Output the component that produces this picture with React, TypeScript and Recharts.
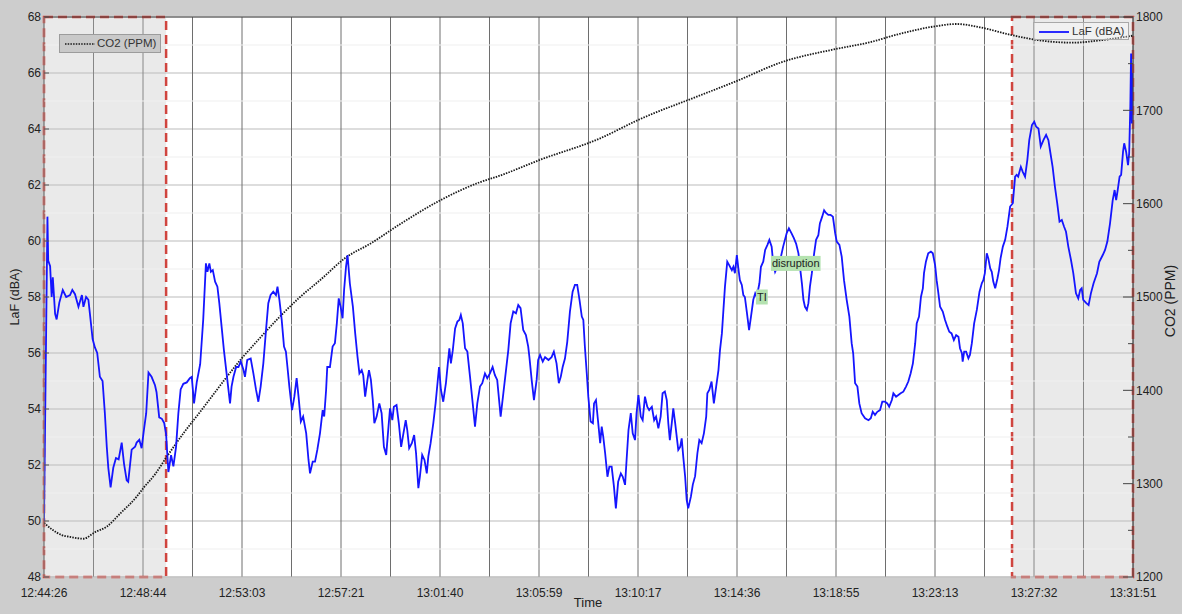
import {
  LineChart,
  Line,
  XAxis,
  YAxis,
  CartesianGrid,
  ReferenceArea,
  ReferenceLine,
  ReferenceDot,
} from "recharts";

// seconds from 12:44:26 to 13:31:51
const SPAN = 2845;

const timeLabels = [
  "12:44:26", "12:48:44", "12:53:03", "12:57:21", "13:01:40", "13:05:59",
  "13:10:17", "13:14:36", "13:18:55", "13:23:13", "13:27:32", "13:31:51",
];
// one grid line half way between every labelled time
const timeTicks = Array.from({ length: 23 }, (_, k) => (k * SPAN) / 22);

const dbTicks = [48, 50, 52, 54, 56, 58, 60, 62, 64, 66, 68];
const dbMinor = [49, 51, 53, 55, 57, 59, 61, 63, 65, 67];
const ppmTicks = [1200, 1250, 1300, 1350, 1400, 1450, 1500, 1550, 1600, 1650, 1700, 1750, 1800];

// [seconds, dBA]
const laf: [number, number][] = [
  [0, 50.0], [9, 60.87], [11, 59.3], [16, 59.1], [20, 58.0], [23, 58.7], [29, 57.4], [33, 57.2],
  [40, 57.8], [49, 58.25], [58, 58.0], [68, 58.07], [74, 58.25], [81, 58.1], [90, 57.65], [99, 58.07],
  [103, 57.65], [110, 58.0], [116, 57.9], [120, 57.4], [127, 56.5], [133, 56.2], [139, 56.0], [146, 55.15],
  [153, 55.0], [159, 53.85], [164, 52.65], [168, 51.9], [174, 51.2], [181, 51.9], [188, 52.25], [195, 52.2],
  [203, 52.8], [209, 52.05], [216, 51.45], [220, 51.4], [229, 52.55], [238, 52.65], [242, 52.8], [249, 52.9],
  [255, 52.6], [261, 53.25], [267, 53.85], [273, 55.3], [281, 55.15], [290, 54.85], [294, 54.6], [301, 53.7],
  [308, 53.65], [314, 53.5], [319, 53.1], [322, 52.4], [325, 51.75], [332, 52.35], [338, 51.95], [345, 52.65],
  [351, 53.85], [357, 54.7], [364, 54.9], [373, 54.95], [381, 55.1], [386, 55.15], [392, 54.2], [399, 54.95],
  [408, 55.6], [416, 57.2], [423, 59.2], [427, 58.9], [432, 59.2], [436, 58.9], [441, 58.96], [447, 58.55],
  [453, 58.37], [458, 57.78], [464, 56.94], [470, 56.1], [477, 55.27], [486, 54.2], [490, 54.8], [495, 55.15],
  [502, 55.5], [508, 55.5], [514, 55.7], [521, 55.4], [525, 55.15], [531, 55.75], [540, 55.8], [547, 55.27],
  [554, 54.68], [560, 54.26], [566, 54.8], [573, 55.63], [580, 56.82], [586, 57.78], [592, 58.07], [599, 58.19],
  [606, 58.07], [610, 58.37], [615, 57.9], [621, 57.18], [627, 56.23], [632, 56.05], [636, 55.5], [641, 54.8],
  [648, 53.96], [654, 54.44], [660, 55.1], [665, 54.44], [671, 53.55], [677, 53.73], [685, 53.13], [691, 52.18],
  [695, 51.7], [702, 52.12], [708, 52.12], [714, 52.54], [721, 53.13], [728, 53.96], [732, 53.73], [737, 54.68],
  [740, 55.5], [747, 55.5], [754, 56.23], [760, 56.35], [765, 57.06], [770, 57.95], [775, 57.65], [780, 57.24],
  [784, 58.25], [789, 59.08], [793, 59.5], [799, 58.49], [807, 57.65], [813, 56.7], [819, 55.87], [824, 55.27],
  [830, 55.39], [834, 55.21], [839, 54.44], [845, 55.04], [849, 55.39], [854, 55.04], [859, 54.32], [863, 53.49],
  [869, 53.73], [876, 54.2], [882, 53.85], [888, 52.65], [894, 52.36], [900, 53.37], [904, 54.02], [910, 53.6],
  [914, 54.08], [921, 54.14], [927, 53.49], [933, 52.65], [939, 53.13], [945, 53.6], [949, 53.25], [954, 52.6],
  [961, 52.78], [967, 53.07], [972, 52.42], [978, 51.17], [982, 51.58], [988, 52.36], [994, 52.18], [1000, 51.7],
  [1004, 52.3], [1010, 52.78], [1017, 53.49], [1023, 54.2], [1028, 54.92], [1032, 55.5], [1037, 54.68], [1043, 54.26],
  [1050, 54.92], [1055, 55.63], [1059, 56.17], [1063, 55.63], [1068, 56.1], [1074, 56.88], [1080, 57.12], [1085, 57.18],
  [1089, 57.36], [1094, 57.06], [1100, 56.17], [1106, 56.05], [1113, 55.15], [1120, 54.2], [1126, 53.37], [1132, 54.2],
  [1139, 54.8], [1145, 54.92], [1152, 55.27], [1158, 55.1], [1165, 55.27], [1172, 55.5], [1178, 55.21], [1184, 55.04],
  [1193, 53.73], [1200, 54.56], [1207, 55.39], [1213, 56.1], [1219, 57.06], [1226, 57.48], [1233, 57.42], [1239, 57.71],
  [1245, 57.6], [1252, 56.82], [1259, 56.64], [1265, 56.23], [1268, 55.87], [1274, 55.04], [1280, 54.32], [1287, 55.04],
  [1291, 55.75], [1296, 55.93], [1303, 55.69], [1309, 55.85], [1318, 55.75], [1326, 55.85], [1332, 56.05], [1339, 55.63],
  [1345, 54.92], [1350, 55.15], [1355, 55.5], [1361, 55.8], [1367, 56.4], [1374, 57.48], [1381, 58.19], [1387, 58.43],
  [1393, 58.43], [1399, 57.9], [1405, 57.3], [1409, 57.18], [1413, 56.23], [1418, 55.27], [1422, 54.44], [1428, 53.55],
  [1434, 53.49], [1437, 54.2], [1442, 54.32], [1448, 53.49], [1453, 52.78], [1457, 53.37], [1461, 53.01], [1466, 52.42],
  [1472, 51.58], [1477, 51.94], [1483, 51.94], [1489, 51.23], [1494, 50.45], [1500, 51.4], [1507, 51.7], [1512, 51.58],
  [1518, 51.29], [1522, 52.18], [1527, 53.25], [1533, 53.85], [1538, 53.13], [1544, 52.89], [1548, 53.85], [1553, 54.5],
  [1559, 53.73], [1564, 53.6], [1570, 54.44], [1576, 54.08], [1581, 53.96], [1588, 54.08], [1594, 53.6], [1599, 53.73],
  [1605, 53.31], [1611, 53.73], [1616, 54.56], [1622, 54.62], [1627, 54.32], [1631, 53.49], [1635, 52.89], [1640, 53.49],
  [1644, 54.02], [1649, 53.49], [1653, 53.01], [1657, 52.54], [1662, 52.65], [1666, 52.95], [1670, 52.3], [1675, 51.58],
  [1679, 50.75], [1683, 50.45], [1690, 50.87], [1695, 51.3], [1701, 51.6], [1707, 52.42], [1712, 52.89], [1718, 52.78],
  [1724, 53.13], [1730, 53.73], [1733, 54.56], [1738, 54.68], [1744, 54.98], [1750, 54.2], [1756, 54.8], [1762, 55.39],
  [1766, 56.1], [1771, 56.7], [1775, 57.54], [1779, 58.37], [1785, 59.26], [1790, 59.14], [1797, 58.96], [1801, 59.08],
  [1805, 58.85], [1810, 59.5], [1814, 59.02], [1818, 58.6], [1823, 58.43], [1827, 58.07], [1831, 58.0], [1836, 57.48],
  [1842, 56.82], [1847, 57.3], [1853, 57.9], [1858, 58.13], [1862, 58.0], [1869, 58.49], [1873, 59.08], [1879, 59.26],
  [1884, 59.68], [1890, 59.86], [1895, 60.04], [1901, 59.8], [1905, 59.2], [1910, 58.9], [1923, 59.3], [1931, 59.8],
  [1940, 60.27], [1946, 60.45], [1953, 60.27], [1959, 60.1], [1965, 59.9], [1971, 59.56], [1975, 59.08], [1980, 58.49],
  [1984, 57.9], [1988, 57.65], [1993, 57.54], [1997, 57.78], [2001, 58.37], [2006, 58.85], [2012, 59.56], [2017, 60.04],
  [2023, 60.21], [2027, 60.63], [2033, 60.87], [2038, 61.1], [2043, 61.0], [2049, 60.93], [2055, 60.93], [2061, 60.87],
  [2067, 60.27], [2071, 59.98], [2078, 59.86], [2084, 59.44], [2090, 58.6], [2097, 57.9], [2104, 57.3], [2110, 56.35],
  [2114, 55.99], [2119, 54.92], [2125, 54.8], [2130, 54.2], [2136, 53.85], [2145, 53.67], [2154, 53.6], [2160, 53.67],
  [2165, 53.9], [2171, 53.79], [2177, 53.9], [2184, 53.96], [2190, 54.26], [2197, 54.26], [2203, 54.2], [2208, 54.08],
  [2215, 54.32], [2219, 54.56], [2226, 54.44], [2232, 54.5], [2238, 54.56], [2245, 54.62], [2252, 54.8], [2258, 54.98],
  [2264, 55.27], [2270, 55.63], [2276, 56.35], [2280, 57.06], [2286, 57.3], [2291, 58.0], [2296, 58.31], [2299, 58.85],
  [2304, 59.26], [2310, 59.56], [2317, 59.62], [2322, 59.56], [2328, 59.14], [2332, 58.6], [2336, 58.19], [2341, 57.65],
  [2348, 57.48], [2354, 57.18], [2360, 56.94], [2365, 56.76], [2371, 56.7], [2377, 56.46], [2383, 56.64], [2389, 56.58],
  [2393, 56.17], [2398, 55.99], [2400, 55.69], [2404, 56.05], [2409, 56.05], [2415, 55.81], [2419, 55.93], [2424, 56.35],
  [2430, 57.06], [2437, 57.54], [2444, 58.19], [2450, 58.49], [2454, 58.6], [2458, 58.85], [2463, 59.56], [2467, 59.38],
  [2472, 59.02], [2476, 58.9], [2480, 58.55], [2485, 58.31], [2491, 58.67], [2495, 58.96], [2499, 59.38], [2505, 59.8],
  [2511, 60.04], [2517, 60.51], [2524, 61.23], [2531, 61.35], [2537, 62.3], [2541, 62.36], [2545, 62.3], [2552, 62.65],
  [2557, 62.47], [2563, 62.3], [2569, 62.9], [2574, 63.6], [2581, 64.14], [2587, 64.26], [2592, 64.08], [2598, 64.02],
  [2604, 63.37], [2611, 63.6], [2618, 63.79], [2624, 63.6], [2628, 63.25], [2635, 62.65], [2641, 61.94], [2647, 61.35],
  [2653, 60.69], [2659, 60.75], [2665, 60.51], [2670, 60.33], [2676, 59.8], [2683, 59.32], [2689, 58.85], [2696, 58.13],
  [2702, 57.95], [2707, 58.25], [2711, 58.31], [2715, 57.9], [2723, 57.78], [2729, 57.71], [2735, 58.13], [2742, 58.49],
  [2751, 58.85], [2757, 59.26], [2766, 59.5], [2772, 59.68], [2778, 59.98], [2785, 60.63], [2792, 61.46], [2797, 61.82],
  [2801, 61.46], [2805, 61.82], [2810, 62.3], [2814, 62.36], [2819, 63.19], [2822, 63.49], [2827, 63.19], [2832, 62.71],
  [2835, 63.13], [2838, 64.8], [2840, 66.7], [2842, 64.2], [2844, 66.0], [2845, 64.6],
];

// [seconds, ppm]
const co2: [number, number][] = [
  [0, 1258], [21, 1251], [46, 1245], [68, 1243], [103, 1241], [133, 1248], [164, 1254], [199, 1268],
  [242, 1286], [259, 1295], [290, 1310], [321, 1329], [368, 1356], [408, 1377], [434, 1391], [473, 1412],
  [516, 1434], [564, 1456], [621, 1481], [669, 1500], [721, 1518], [791, 1543], [852, 1557], [930, 1578],
  [1037, 1604], [1139, 1623], [1191, 1630], [1296, 1647], [1453, 1670], [1554, 1690], [1714, 1716], [1813, 1732],
  [1923, 1751], [2072, 1766], [2158, 1773], [2236, 1782], [2328, 1790], [2384, 1792.5], [2445, 1789], [2524, 1781],
  [2584, 1776], [2688, 1772.5], [2759, 1775], [2845, 1780],
];

// excluded stretches at both ends, in seconds
const marked: [number, number][] = [[0, 319], [2529, 2845]];

const notes = [
  { t: 1860, v: 58.0, text: "TI" },
  { t: 1899, v: 59.2, text: "disruption" },
];

const lafRows = laf.map(([t, v]) => ({ t, v }));
const co2Rows = co2.map(([t, v]) => ({ t, v }));

const FONT = "'Liberation Sans', Arial, sans-serif";

const timeLabel = (v: number) => {
  const k = Math.round((v * 22) / SPAN);
  return k % 2 === 0 ? timeLabels[k / 2] : "";
};

let ctx: CanvasRenderingContext2D | null = null;
const textWidth = (s: string) => {
  if (!ctx) ctx = document.createElement("canvas").getContext("2d");
  if (!ctx) return s.length * 5;
  ctx.font = `11px ${FONT}`;
  return ctx.measureText(s).width;
};

const DbTick = (p: any) => {
  const ax = p.x + 3;
  return (
    <g>
      <line x1={ax} x2={ax + 5} y1={p.y} y2={p.y} stroke="#555" />
      <text x={p.x} y={p.y} dy="0.36em" textAnchor="end" fontSize={12} fill="#222">
        {p.payload.value}
      </text>
    </g>
  );
};

const PpmTick = (p: any) => {
  const ax = p.x - 3;
  const major = p.payload.value % 100 === 0;
  return (
    <g>
      <line x1={ax} x2={ax - (major ? 10 : 5)} y1={p.y} y2={p.y} stroke="#444" />
      {major && (
        <text x={p.x} y={p.y} dy="0.36em" textAnchor="start" fontSize={12} fill="#222">
          {p.payload.value}
        </text>
      )}
    </g>
  );
};

const tagShape = (text: string) => (p: any) => {
  const w = textWidth(text) + 2;
  return (
    <g>
      <rect x={p.cx} y={p.cy - 7.5} width={w} height={15} fill="#b4e2b0" />
      <text x={p.cx + 1} y={p.cy} dy="0.36em" fontSize={11} fill="#222">
        {text}
      </text>
    </g>
  );
};

export default function App() {
  return (
    <div
      style={{
        position: "absolute",
        left: 0,
        top: 0,
        width: 1182,
        height: 614,
        background: "#cdcdcd",
        fontFamily: FONT,
      }}
    >
      <LineChart width={1182} height={614} margin={{ top: 17, right: 8, bottom: 6, left: 8 }}>
        <CartesianGrid yAxisId="laf" vertical={false} fill="#fff" stroke="#d2d2d2" strokeWidth={1.3} />
        <CartesianGrid yAxisId="laf" horizontal={false} stroke="#6e6e6e" />
        <XAxis
          type="number"
          dataKey="t"
          domain={[0, SPAN]}
          ticks={timeTicks}
          interval={0}
          allowDataOverflow
          tickFormatter={timeLabel}
          tickLine={false}
          tickMargin={5}
          height={31}
          axisLine={{ stroke: "#bbb" }}
          tick={{ fontSize: 12, fill: "#222" }}
        />
        <YAxis
          yAxisId="laf"
          domain={[48, 68]}
          ticks={dbTicks}
          interval={0}
          allowDataOverflow
          width={36}
          tickLine={false}
          tickSize={0}
          tickMargin={3}
          axisLine={{ stroke: "#8a8a8a" }}
          tick={(p: any) => <DbTick {...p} />}
        />
        <YAxis
          yAxisId="co2"
          orientation="right"
          domain={[1200, 1800]}
          ticks={ppmTicks}
          interval={0}
          allowDataOverflow
          width={41}
          tickLine={false}
          tickSize={0}
          tickMargin={3}
          axisLine={{ stroke: "#444" }}
          tick={(p: any) => <PpmTick {...p} />}
        />
        {dbMinor.map((v) => (
          <ReferenceLine key={v} yAxisId="laf" y={v} stroke="#efefef" strokeWidth={1.2} />
        ))}
        {marked.map(([a, b]) => (
          <ReferenceArea
            key={a}
            yAxisId="laf"
            x1={a}
            x2={b}
            y1={48}
            y2={68}
            fill="#bdbdbd"
            fillOpacity={0.32}
            stroke="#d0453f"
            strokeWidth={2.5}
            strokeDasharray="9 5"
          />
        ))}
        <ReferenceLine yAxisId="laf" y={68} stroke="#444" />
        <Line
          yAxisId="co2"
          data={co2Rows}
          dataKey="v"
          type="monotone"
          stroke="#1a1a1a"
          strokeWidth={1.8}
          strokeDasharray="1.5 1.2"
          dot={false}
          isAnimationActive={false}
        />
        <Line
          yAxisId="laf"
          data={lafRows}
          dataKey="v"
          type="linear"
          stroke="#1515ff"
          strokeWidth={1.8}
          dot={false}
          isAnimationActive={false}
        />
        {notes.map((n) => (
          <ReferenceDot key={n.text} yAxisId="laf" x={n.t} y={n.v} shape={tagShape(n.text)} />
        ))}
      </LineChart>

      {/* legends */}
      <div
        style={{
          position: "absolute",
          left: 59,
          top: 34,
          width: 102,
          height: 19,
          boxSizing: "border-box",
          background: "#c9c9c9",
          border: "1px solid #9c9c9c",
          fontSize: 11.5,
          color: "#333",
        }}
      >
        <svg width={32} height={17} style={{ position: "absolute", left: 4, top: 0 }}>
          <line x1={1} x2={31} y1={9} y2={9} stroke="#1a1a1a" strokeWidth={1.6} strokeDasharray="1.5 1.2" />
        </svg>
        <span style={{ position: "absolute", left: 37, top: 2 }}>CO2 (PPM)</span>
      </div>
      <div
        style={{
          position: "absolute",
          left: 1033,
          top: 22,
          width: 96,
          height: 18,
          boxSizing: "border-box",
          background: "rgba(255,255,255,0.35)",
          border: "1px solid #a8a8a8",
          fontSize: 11.5,
          color: "#333",
        }}
      >
        <svg width={32} height={16} style={{ position: "absolute", left: 4, top: 0 }}>
          <line x1={1} x2={31} y1={9} y2={9} stroke="#1515ff" strokeWidth={1.8} />
        </svg>
        <span style={{ position: "absolute", left: 38, top: 2 }}>LaF (dBA)</span>
      </div>

      {/* axis titles */}
      <div
        style={{
          position: "absolute",
          left: 15,
          top: 297,
          transform: "translate(-50%, -50%) rotate(-90deg)",
          fontSize: 12.5,
          color: "#222",
          whiteSpace: "nowrap",
        }}
      >
        LaF (dBA)
      </div>
      <div
        style={{
          position: "absolute",
          left: 1170,
          top: 301,
          transform: "translate(-50%, -50%) rotate(-90deg)",
          fontSize: 14,
          color: "#222",
          whiteSpace: "nowrap",
        }}
      >
        CO2 (PPM)
      </div>
      <div
        style={{
          position: "absolute",
          left: 588,
          top: 602,
          transform: "translate(-50%, -50%)",
          fontSize: 13,
          color: "#222",
        }}
      >
        Time
      </div>
    </div>
  );
}
